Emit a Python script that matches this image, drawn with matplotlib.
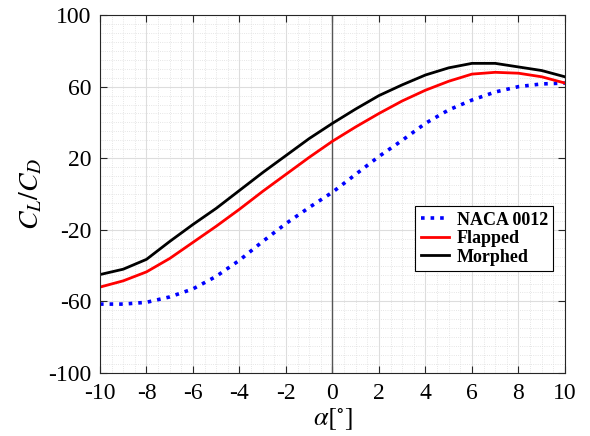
import numpy as np
import matplotlib
matplotlib.use("Agg")
import matplotlib.pyplot as plt
from matplotlib.ticker import MultipleLocator

# values
alpha = [-10, -9, -8, -7, -6, -5, -4, -3, -2, -1, 0, 1, 2, 3, 4, 5, 6, 7, 8, 9, 10]
naca0012 = [-61.5, -61.5, -60.5, -57.5, -53, -46, -37, -26.5, -16.5, -7.5, 1,
            11, 21, 30, 39.5, 47, 52.5, 57, 60, 61.5, 62]
flapped = [-52, -48.5, -43.5, -36, -27, -18, -8.5, 1.5, 11, 20.5, 29.5,
           37.5, 45, 52, 58, 63, 67, 68, 67.5, 65.5, 62]
morphed = [-45, -42, -36.5, -26.5, -17, -8, 2, 12, 21.5, 31, 39.5,
           47.5, 55, 61, 66.5, 70.5, 73, 73, 71, 69, 65.5]
yticks = [-100, -60, -20, 20, 60, 100]

plt.rcParams['font.family'] = 'Liberation Serif'
plt.rcParams['mathtext.fontset'] = 'stix'
plt.rcParams['axes.unicode_minus'] = False

fig = plt.figure(figsize=(5.9, 4.36), dpi=100)
ax = fig.add_axes([0.1695, 0.1445, 0.788, 0.821])

ax.plot(alpha, naca0012, ':', color='#0000ff', lw=2.6, label='NACA 0012')
ax.plot(alpha, flapped, '-', color='#ff0000', lw=2, label='Flapped')
ax.plot(alpha, morphed, '-', color='black', lw=2, label='Morphed')
ax.axvline(0, color='#555555', lw=1, zorder=1)

ax.set_xlim(-10, 10)
ax.set_ylim(-100, 100)
ax.xaxis.set_major_locator(MultipleLocator(2))
ax.xaxis.set_minor_locator(MultipleLocator(0.5))
ax.set_yticks(yticks)
ax.yaxis.set_minor_locator(MultipleLocator(5))

ax.grid(which='major', color='#dddddd', lw=0.8)
ax.grid(which='minor', color='#dddddd', lw=0.6, ls=':')
ax.set_axisbelow(True)

ax.tick_params(which='both', direction='in', top=True, right=True,
               labelsize=17, colors='#262626', labelcolor='black')
ax.tick_params(which='minor', length=0)
ax.tick_params(axis='x', which='major', length=5, pad=7)
ax.tick_params(axis='y', which='major', length=5, pad=6)
for s in ax.spines.values():
    s.set_color('#262626')
    s.set_linewidth(0.8)

ax.set_xlabel(r'$\alpha[^{\circ}]$', fontsize=19, labelpad=2)
ax.set_ylabel(r'$C_L/C_D$', fontsize=20, labelpad=3)

leg = ax.legend(loc='lower right', bbox_to_anchor=(0.975, 0.285),
                prop={'family': 'Liberation Serif', 'weight': 'bold', 'size': 13},
                fancybox=False, edgecolor='black', framealpha=1,
                handlelength=1.6, handletextpad=0.4, borderpad=0.3,
                labelspacing=0.08, borderaxespad=0)
leg.get_frame().set_linewidth(0.8)

fig.savefig('out.png', dpi=100)
